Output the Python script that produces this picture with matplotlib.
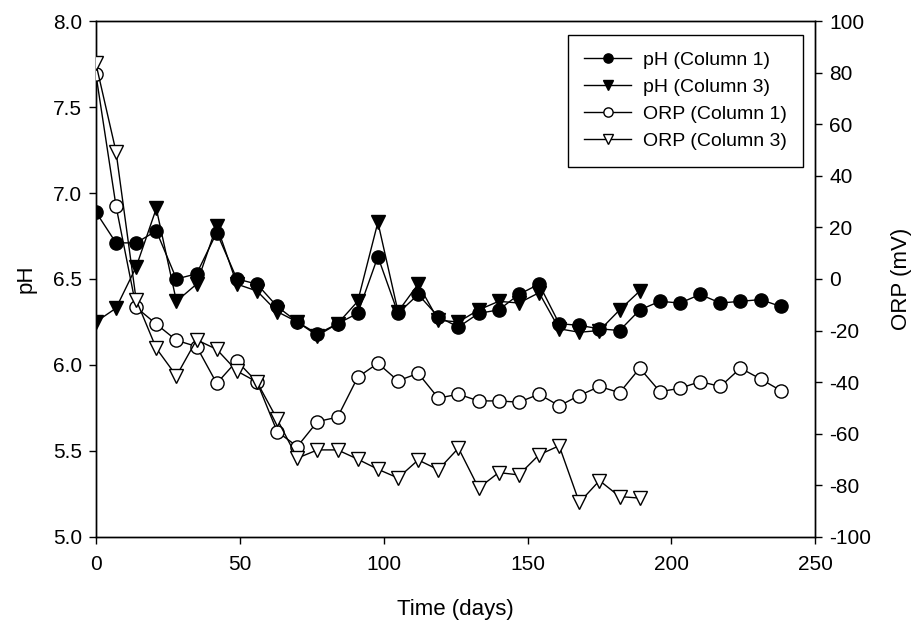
import numpy as np
import matplotlib.pyplot as plt

plt.rcParams['font.family'] = ['Liberation Sans', 'DejaVu Sans']
plt.rcParams['font.size'] = 15
plt.rcParams['axes.unicode_minus'] = False

# ---------- data ----------
days_c1 = [0, 7, 14, 21, 28, 35, 42, 49, 56, 63, 70, 77, 84, 91, 98, 105, 112,
           119, 126, 133, 140, 147, 154, 161, 168, 175, 182, 189, 196, 203,
           210, 217, 224, 231, 238]
days_c3 = days_c1[:28]

ph_c1 = [6.89, 6.71, 6.71, 6.78, 6.50, 6.53, 6.77, 6.50, 6.47, 6.34, 6.25,
         6.18, 6.24, 6.30, 6.63, 6.30, 6.41, 6.28, 6.22, 6.30, 6.32, 6.41,
         6.47, 6.24, 6.23, 6.21, 6.20, 6.32, 6.37, 6.36, 6.41, 6.36, 6.37,
         6.38, 6.34]
ph_c3 = [6.25, 6.33, 6.57, 6.91, 6.37, 6.47, 6.81, 6.47, 6.43, 6.31, 6.25,
         6.17, 6.24, 6.37, 6.83, 6.31, 6.47, 6.26, 6.25, 6.32, 6.37, 6.36,
         6.42, 6.21, 6.19, 6.20, 6.32, 6.43]

orp_c1 = [79.5, 28.3, -11.0, -17.5, -23.8, -26.2, -40.5, -31.8, -40.0, -59.2,
          -65.0, -55.3, -53.6, -38.1, -32.7, -39.5, -36.6, -46.2, -44.7, -47.3,
          -47.3, -47.8, -44.7, -49.2, -45.2, -41.7, -44.1, -34.6, -43.7, -42.4,
          -39.8, -41.7, -34.6, -38.8, -43.3]
orp_c3 = [83.6, 49.4, -8.1, -26.9, -37.6, -23.6, -27.3, -35.7, -40.0, -54.4,
          -69.5, -66.3, -66.3, -69.9, -73.8, -77.2, -70.2, -74.0, -65.6, -81.1,
          -75.1, -76.0, -68.2, -64.7, -86.7, -78.2, -84.4, -85.0]

# ---------- figure ----------
fig, ax = plt.subplots(figsize=(9.13, 6.22), dpi=100)
plt.subplots_adjust(left=0.105, right=0.893, top=0.966, bottom=0.137)
ax2 = ax.twinx()

ms = 9.5
l1, = ax.plot(days_c1, ph_c1, color='black', linewidth=1.0, marker='o',
              markersize=ms, markerfacecolor='black', markeredgecolor='black',
              label='pH (Column 1)', zorder=3)
l2, = ax.plot(days_c3, ph_c3, color='black', linewidth=1.0, marker='v',
              markersize=ms, markerfacecolor='black', markeredgecolor='black',
              label='pH (Column 3)', zorder=3)
l3, = ax2.plot(days_c1, orp_c1, color='black', linewidth=1.0, marker='o',
               markersize=ms, markerfacecolor='white', markeredgecolor='black',
               label='ORP (Column 1)', zorder=3)
l4, = ax2.plot(days_c3, orp_c3, color='black', linewidth=1.0, marker='v',
               markersize=ms, markerfacecolor='white', markeredgecolor='black',
               label='ORP (Column 3)', zorder=3)

ax.set_xlim(0, 250)
ax.set_ylim(5.0, 8.0)
ax2.set_ylim(-100, 100)
ax.set_xticks(np.arange(0, 251, 50))
ax.set_yticks(np.arange(5.0, 8.01, 0.5))
ax.set_yticklabels([f'{v:.1f}' for v in np.arange(5.0, 8.01, 0.5)])
ax2.set_yticks(np.arange(-100, 101, 20))

ax.set_xlabel('Time (days)', fontsize=16, labelpad=18)
ax.set_ylabel('pH', fontsize=16, labelpad=12)
ax2.set_ylabel('ORP (mV)', fontsize=16, labelpad=14)

for a in (ax, ax2):
    a.tick_params(direction='out', length=5, width=1.0, labelsize=15, pad=5)
    for s in a.spines.values():
        s.set_linewidth(1.0)
ax.tick_params(axis='x', pad=8)

leg = ax2.legend(handles=[l1, l2, l3, l4], loc='upper right',
                 bbox_to_anchor=(0.983, 0.973), borderaxespad=0,
                 frameon=True, fancybox=False, edgecolor='black',
                 framealpha=1, fontsize=14, markerscale=0.7,
                 handlelength=2.4, handletextpad=0.6, borderpad=0.85,
                 labelspacing=0.48)
leg.get_frame().set_linewidth(1.0)

plt.savefig('out.png', dpi=100)
